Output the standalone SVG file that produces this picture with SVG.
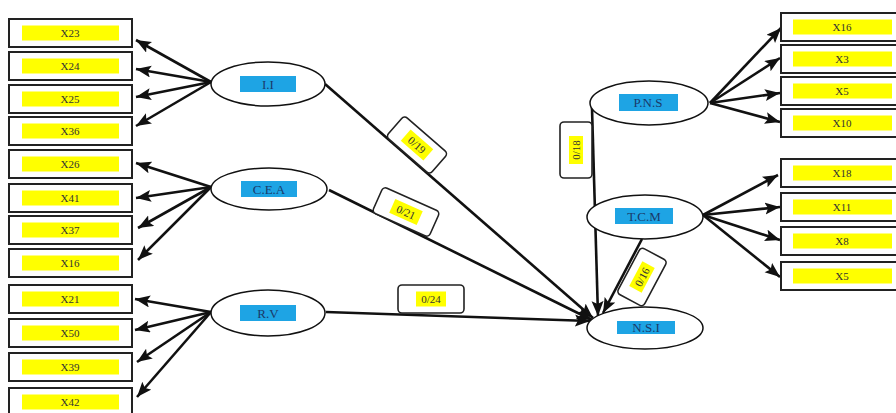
<svg xmlns="http://www.w3.org/2000/svg" width="896" height="413" viewBox="0 0 896 413">
<defs>
<marker id="ah" markerUnits="userSpaceOnUse" markerWidth="16" markerHeight="13" refX="15" refY="6" orient="auto">
<path d="M0,0 L15,6 L0,12 L3,6 z" fill="#111"/>
</marker>
<style>
.box{fill:#fff;stroke:#222;stroke-width:2}
.hl{fill:#ffff00}
.bl{fill:#1ea4e4}
.t{font-family:"Liberation Serif",serif;font-size:11px;fill:#333;text-anchor:middle}
.lt{font-family:"Liberation Serif",serif;font-size:13px;fill:#1a3a6a;text-anchor:middle}
.el{fill:#fff;stroke:#111;stroke-width:1.5}
.c{stroke:#111;stroke-width:2.6;fill:none;marker-end:url(#ah)}
.lb{fill:#fff;stroke:#222;stroke-width:1.6}
</style>
</defs>
<rect width="896" height="413" fill="#fff"/>
<g id="connectors">
<path class="c" d="M211,82 L136,40"/>
<path class="c" d="M211,82 L136,69"/>
<path class="c" d="M211,82 L136,97"/>
<path class="c" d="M211,82 L136,126"/>
<path class="c" d="M211,187 L136,163"/>
<path class="c" d="M211,187 L136,198"/>
<path class="c" d="M211,187 L138,228"/>
<path class="c" d="M211,187 L138,260"/>
<path class="c" d="M211,312 L135,299"/>
<path class="c" d="M211,312 L135,330"/>
<path class="c" d="M211,312 L137,362"/>
<path class="c" d="M211,312 L137,397"/>
<path class="c" d="M710,103 L781,28"/>
<path class="c" d="M710,103 L780,58"/>
<path class="c" d="M710,103 L780,93"/>
<path class="c" d="M710,103 L780,122"/>
<path class="c" d="M703,215 L778,175"/>
<path class="c" d="M703,215 L780,207"/>
<path class="c" d="M703,215 L780,240"/>
<path class="c" d="M703,215 L780,277"/>
<path class="c" d="M325,84 L593,318"/>
<path class="c" d="M329,190 L592,320"/>
<path class="c" d="M326,312 L590,321"/>
<path class="c" d="M592,108 L598,316"/>
<path class="c" d="M642,239 L603,313"/>
<g transform="translate(417,145) rotate(41)">
<rect class="lb" x="-29" y="-14" width="58" height="28" rx="4"/>
<rect class="hl" x="-15" y="-7.5" width="30" height="15"/>
<text class="t" x="0" y="4">0/19</text>
</g>
<g transform="translate(406,212) rotate(24)">
<rect class="lb" x="-31" y="-14" width="62" height="28" rx="4"/>
<rect class="hl" x="-15" y="-7.5" width="30" height="15"/>
<text class="t" x="0" y="4">0/21</text>
</g>
<g transform="translate(431,299)">
<rect class="lb" x="-33" y="-14" width="66" height="28" rx="4"/>
<rect class="hl" x="-15" y="-7.5" width="30" height="15"/>
<text class="t" x="0" y="4">0/24</text>
</g>
<g transform="translate(576,150) rotate(-90)">
<rect class="lb" x="-28" y="-16" width="56" height="32" rx="4"/>
<rect class="hl" x="-14" y="-7" width="28" height="14"/>
<text class="t" x="0" y="4">0/18</text>
</g>
<g transform="translate(642,277) rotate(-62)">
<rect class="lb" x="-26" y="-15" width="52" height="30" rx="4"/>
<rect class="hl" x="-14" y="-7" width="28" height="14"/>
<text class="t" x="0" y="4">0/16</text>
</g>
</g>
<g id="X23"><rect class="box" x="9" y="19" width="123" height="28"/><rect class="hl" x="22" y="25.5" width="97" height="15"/><text class="t" x="70" y="37">X23</text></g>
<g id="X24"><rect class="box" x="9" y="52" width="123" height="28"/><rect class="hl" x="22" y="58.5" width="97" height="15"/><text class="t" x="70" y="70">X24</text></g>
<g id="X25"><rect class="box" x="9" y="85" width="123" height="28"/><rect class="hl" x="22" y="91.5" width="97" height="15"/><text class="t" x="70" y="103">X25</text></g>
<g id="X36"><rect class="box" x="9" y="117" width="123" height="28"/><rect class="hl" x="22" y="123.5" width="97" height="15"/><text class="t" x="70" y="135">X36</text></g>
<g id="X26"><rect class="box" x="9" y="150" width="123" height="28"/><rect class="hl" x="22" y="156.5" width="97" height="15"/><text class="t" x="70" y="168">X26</text></g>
<g id="X41"><rect class="box" x="9" y="184" width="123" height="28"/><rect class="hl" x="22" y="190.5" width="97" height="15"/><text class="t" x="70" y="202">X41</text></g>
<g id="X37"><rect class="box" x="9" y="216" width="123" height="28"/><rect class="hl" x="22" y="222.5" width="97" height="15"/><text class="t" x="70" y="234">X37</text></g>
<g id="X16a"><rect class="box" x="9" y="249" width="123" height="28"/><rect class="hl" x="22" y="255.5" width="97" height="15"/><text class="t" x="70" y="267">X16</text></g>
<g id="X21"><rect class="box" x="9" y="285" width="123" height="28"/><rect class="hl" x="22" y="291.5" width="97" height="15"/><text class="t" x="70" y="303">X21</text></g>
<g id="X50"><rect class="box" x="9" y="319" width="123" height="28"/><rect class="hl" x="22" y="325.5" width="97" height="15"/><text class="t" x="70" y="337">X50</text></g>
<g id="X39"><rect class="box" x="9" y="353" width="123" height="28"/><rect class="hl" x="22" y="359.5" width="97" height="15"/><text class="t" x="70" y="371">X39</text></g>
<g id="X42"><rect class="box" x="9" y="388" width="123" height="28"/><rect class="hl" x="22" y="394.5" width="97" height="15"/><text class="t" x="70" y="406">X42</text></g>
<g id="X16b"><rect class="box" x="781" y="13" width="125" height="28"/><rect class="hl" x="793" y="19.5" width="99" height="15"/><text class="t" x="842" y="31">X16</text></g>
<g id="X3"><rect class="box" x="781" y="45" width="125" height="28"/><rect class="hl" x="793" y="51.5" width="99" height="15"/><text class="t" x="842" y="63">X3</text></g>
<g id="X5a"><rect class="box" x="781" y="77" width="125" height="28"/><rect class="hl" x="793" y="83.5" width="99" height="15"/><text class="t" x="842" y="95">X5</text></g>
<g id="X10"><rect class="box" x="781" y="109" width="125" height="28"/><rect class="hl" x="793" y="115.5" width="99" height="15"/><text class="t" x="842" y="127">X10</text></g>
<g id="X18"><rect class="box" x="781" y="159" width="125" height="28"/><rect class="hl" x="793" y="165.5" width="99" height="15"/><text class="t" x="842" y="177">X18</text></g>
<g id="X11"><rect class="box" x="781" y="193" width="125" height="28"/><rect class="hl" x="793" y="199.5" width="99" height="15"/><text class="t" x="842" y="211">X11</text></g>
<g id="X8"><rect class="box" x="781" y="227" width="125" height="28"/><rect class="hl" x="793" y="233.5" width="99" height="15"/><text class="t" x="842" y="245">X8</text></g>
<g id="X5b"><rect class="box" x="781" y="262" width="125" height="28"/><rect class="hl" x="793" y="268.5" width="99" height="15"/><text class="t" x="842" y="280">X5</text></g>
<g id="II"><ellipse class="el" cx="268" cy="84" rx="57" ry="22"/><rect class="bl" x="240" y="76" width="56" height="16"/><text class="lt" x="268" y="89">I.I</text></g>
<g id="CEA"><ellipse class="el" cx="269" cy="189" rx="58" ry="21"/><rect class="bl" x="241" y="181" width="56" height="16"/><text class="lt" x="269" y="194">C.E.A</text></g>
<g id="RV"><ellipse class="el" cx="268" cy="313" rx="57" ry="23"/><rect class="bl" x="240" y="305" width="56" height="16"/><text class="lt" x="268" y="318">R.V</text></g>
<g id="PNS"><ellipse class="el" cx="649" cy="103" rx="59" ry="22"/><rect class="bl" x="619" y="94" width="59" height="17"/><text class="lt" x="648" y="107">P.N.S</text></g>
<g id="TCM"><ellipse class="el" cx="645" cy="217" rx="58" ry="22"/><rect class="bl" x="615" y="208" width="58" height="16"/><text class="lt" x="644" y="221">T.C.M</text></g>
<g id="NSI"><ellipse class="el" cx="645" cy="328" rx="58" ry="21"/><rect class="bl" x="617" y="321" width="58" height="13"/><text class="lt" x="646" y="332">N.S.I</text></g>
</svg>
